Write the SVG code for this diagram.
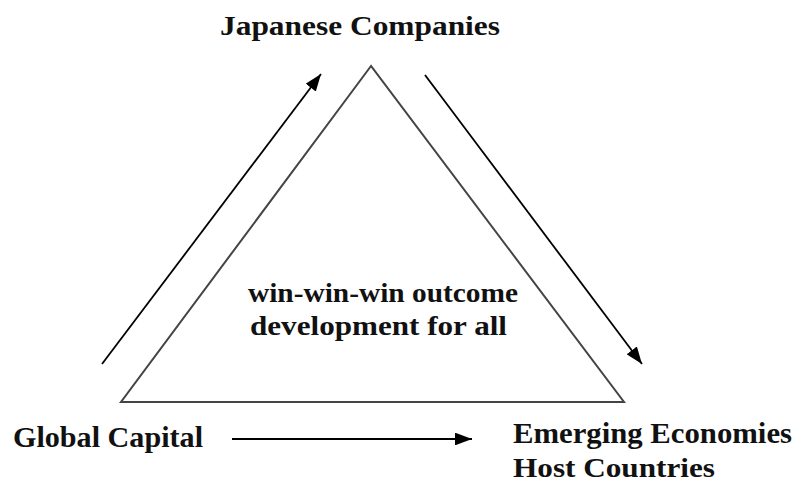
<svg xmlns="http://www.w3.org/2000/svg" width="795" height="484" viewBox="0 0 795 484">
<style>
text{font-family:'Liberation Serif','Times New Roman',serif;font-weight:bold;font-size:28px;fill:#111}
.arr{stroke:#000;stroke-width:1.8;fill:none;marker-end:url(#ah)}
</style>
<defs>
<marker id="ah" viewBox="0 0 16 12" refX="16" refY="6" markerWidth="9.5" markerHeight="7.2" orient="auto">
<path d="M0,0 L16,6 L0,12 z" fill="#000"/>
</marker>
</defs>
<rect width="795" height="484" fill="#fff"/>
<g id="triangle">
<polygon points="371,66 121,402 624,402" fill="none" stroke="#444" stroke-width="2"/>
<text x="248" y="302" textLength="270" lengthAdjust="spacingAndGlyphs">win-win-win outcome</text>
<text x="250" y="335" textLength="257" lengthAdjust="spacingAndGlyphs">development for all</text>
</g>
<g id="japanese">
<text x="220" y="35" textLength="280" lengthAdjust="spacingAndGlyphs">Japanese Companies</text>
</g>
<g id="global">
<text x="13" y="447" style="font-size:30px" textLength="190" lengthAdjust="spacingAndGlyphs">Global Capital</text>
</g>
<g id="emerging">
<text x="513" y="443" style="font-size:29px" textLength="279" lengthAdjust="spacingAndGlyphs">Emerging Economies</text>
<text x="513" y="477" style="font-size:28px" textLength="202" lengthAdjust="spacingAndGlyphs">Host Countries</text>
</g>
<g id="connectors">
<line class="arr" x1="102" y1="364" x2="321" y2="74"/>
<line class="arr" x1="425" y1="75" x2="642" y2="364"/>
<line class="arr" x1="232" y1="439" x2="472" y2="439"/>
</g>
</svg>
